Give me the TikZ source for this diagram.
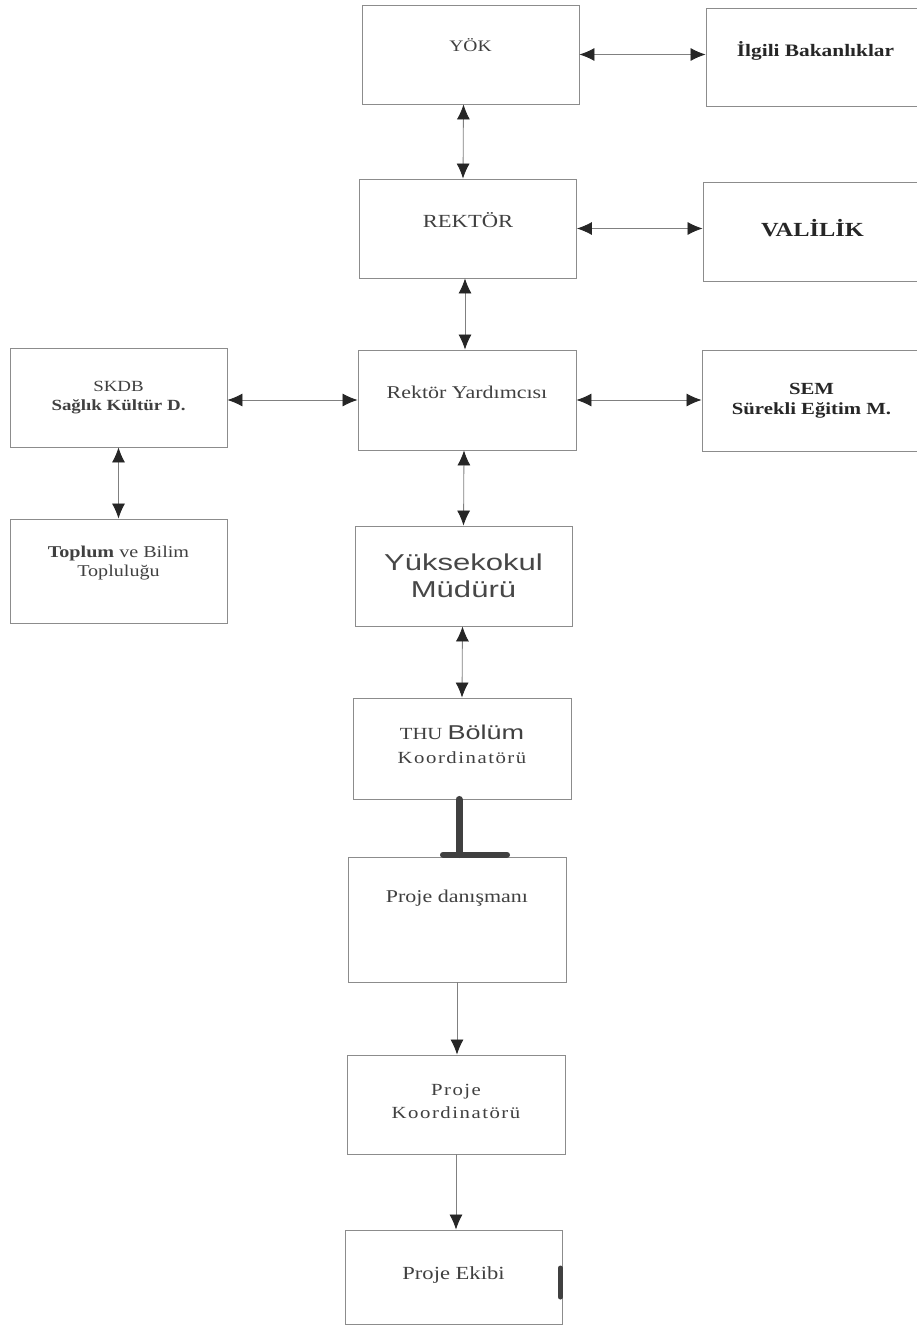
\documentclass[tikz,border=0pt]{standalone}
\usepackage{fontspec}
\setmainfont[FakeStretch=1.22]{Liberation Serif}
\newfontfamily\spc[FakeStretch=1.22,LetterSpace=9]{Liberation Serif}
\newfontfamily\sansf[FakeStretch=1.35]{Liberation Sans}
\usetikzlibrary{arrows.meta}
\begin{document}
\begin{tikzpicture}[x=1pt,y=-1pt,
  box/.style={draw=black!45, line width=0.9pt, rectangle, inner sep=0pt, align=center,
    minimum width=217pt, minimum height=99pt, text=black!75,
    font=\fontsize{16}{20}\selectfont},
  bbox/.style={box, font=\fontsize{18}{21}\bfseries\selectfont, text=black!85},
  link/.style={draw=black!50, line width=0.8pt, {Latex[length=15pt,width=13pt,color=black!85]}-{Latex[length=15pt,width=13pt,color=black!85]}},
  onelink/.style={draw=black!50, line width=0.8pt, -{Latex[length=15pt,width=13pt,color=black!85]}},
  heavy/.style={draw=black!75, line cap=round}]
\useasboundingbox[fill=white] (0,0) rectangle (917,1328);

\node[box, text depth=18pt] (yok) at (470.5,54.5) {YÖK};
\node[bbox, minimum width=219pt, minimum height=98pt, text depth=16pt, font=\fontsize{17.5}{21}\bfseries\selectfont] (ilgili) at (815.5,57) {İlgili Bakanlıklar};
\node[box, text depth=16pt, font=\fontsize{18.5}{21}\selectfont] (rektor) at (468,228.5) {REKTÖR};
\node[bbox, minimum width=219pt, text depth=8pt, font=\fontsize{20}{23}\bfseries\selectfont] (valilik) at (812.5,231.5) {VALİLİK};
\node[box, font=\fontsize{15.5}{19}\selectfont] (skdb) at (118.5,397.5) {SKDB\\\textbf{Sağlık Kültür D.}};
\node[box, minimum width=218pt, minimum height=100pt, text depth=16pt, font=\fontsize{18}{20}\selectfont] (ry) at (467,400) {Rektör Yardımcısı};
\node[bbox, minimum width=219pt, minimum height=101pt, font=\fontsize{17}{20}\bfseries\selectfont] (sem) at (811.5,400.5) {SEM\\Sürekli Eğitim M.};
\node[box, minimum height=104pt, text depth=20pt, font=\fontsize{16.5}{19}\selectfont] (toplum) at (118.5,571) {\textbf{Toplum} ve Bilim\\Topluluğu};
\node[box, minimum height=100pt, font=\sansf\fontsize{23}{27}\selectfont, text=black!72] (yuksek) at (463.5,576) {Yüksekokul\\Müdürü};
\node[box, minimum width=218pt, minimum height=101pt, text depth=8pt, font=\fontsize{17}{24}\selectfont] (thu) at (462,748.5) {THU {\sansf\fontsize{20}{24}\selectfont Bölüm}\\{\spc Koordinatörü}};
\node[box, minimum width=218pt, minimum height=125pt, text depth=46pt, font=\fontsize{18}{20}\selectfont] (pd) at (457,919.5) {Proje danışmanı};
\node[box, minimum width=218pt, minimum height=99pt, text depth=6pt, font=\spc\fontsize{17}{23}\selectfont] (pk) at (456,1104.5) {Proje\\Koordinatörü};
\node[box, minimum width=217pt, minimum height=94pt, text depth=8pt, font=\fontsize{18.5}{20}\selectfont] (pe) at (453.5,1277) {Proje Ekibi};

\draw[link] (yok.east) -- (yok.east -| ilgili.west);
\draw[link] ([xshift=-7pt]yok.south) -- ([xshift=-5pt]rektor.north);
\draw[link] (rektor.east) -- (rektor.east -| valilik.west);
\draw[link] ([xshift=-3pt]rektor.south) -- ([xshift=-2pt]ry.north);
\draw[link] (skdb.east |- ry.west) -- (ry.west);
\draw[link] (ry.east) -- (ry.east -| sem.west);
\draw[link] (skdb.south) -- (toplum.north);
\draw[link] ([xshift=-3pt]ry.south) -- ([xshift=0pt]yuksek.north);
\draw[link] ([xshift=-1pt]yuksek.south) -- ([xshift=0pt]thu.north);
\draw[heavy, line width=7pt] ([xshift=-3pt]thu.south) -- ([xshift=-3pt,yshift=2pt]thu.south |- pd.north);
\draw[heavy, line width=6pt] ([xshift=-14pt,yshift=2pt]pd.north) -- ([xshift=50pt,yshift=2pt]pd.north);
\draw[onelink] (pd.south) -- (pd.south |- pk.north);
\draw[onelink] (pk.south) -- (pk.south |- pe.north);
\draw[heavy, line width=5pt] ([xshift=-2pt,yshift=9pt]pe.east) -- ([xshift=-2pt,yshift=-20pt]pe.east);
\end{tikzpicture}
\end{document}
